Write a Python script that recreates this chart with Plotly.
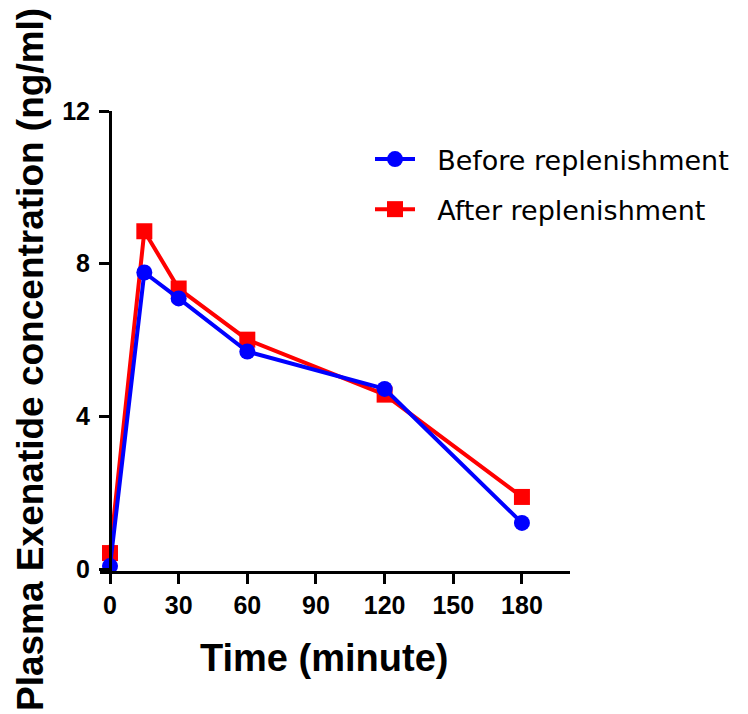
import plotly.graph_objects as go

time_min = [0, 15, 30, 60, 120, 180]
before_vals = [0.08, 7.77, 7.09, 5.70, 4.72, 1.21]
after_vals = [0.42, 8.85, 7.35, 6.01, 4.57, 1.89]
x_ticks = [0, 30, 60, 90, 120, 150, 180]
y_ticks = [0, 4, 8, 12]
series_names = ["Before replenishment", "After replenishment"]

W, H = 748, 714
L, R, T, B = 100, 178, 111, 143
x_range = [-4.37, 201.0]
y_range = [-0.05, 12]
pad = "\u00a0\u00a0"

fig = go.Figure()
fig.add_trace(go.Scatter(
    x=time_min, y=after_vals, name=pad + series_names[1], legendgroup="a",
    legendrank=2,
    mode="lines+markers",
    line=dict(color="#FF0000", width=4),
    marker=dict(symbol="square", size=16, color="#FF0000"),
))
fig.add_trace(go.Scatter(
    x=time_min, y=before_vals, name=pad + series_names[0], legendgroup="b",
    legendrank=1,
    mode="lines+markers",
    line=dict(color="#0000FF", width=4),
    marker=dict(symbol="circle", size=16, color="#0000FF"),
))

tick_font = dict(family="Liberation Sans, Arial", size=25, color="black", weight="bold")
title_font = dict(family="Liberation Sans, Arial", size=38, color="black")

fig.update_layout(
    width=W, height=H,
    margin=dict(l=L, r=R, t=T, b=B),
    plot_bgcolor="white", paper_bgcolor="white",
    showlegend=True,
    legend=dict(
        x=(370 - L) / (W - L - R), y=1 + (T - 135) / (H - T - B),
        xanchor="left", yanchor="top",
        xref="paper", yref="paper",
        font=dict(family="DejaVu Sans", size=27, color="black"),
        traceorder="grouped", tracegroupgap=12,
        itemwidth=40, bgcolor="rgba(0,0,0,0)",
    ),
    xaxis=dict(
        range=x_range, tickvals=x_ticks, ticktext=[str(v) for v in x_ticks],
        showline=True, linecolor="black", linewidth=3,
        ticks="outside", ticklen=10, tickwidth=3, tickcolor="black",
        showgrid=False, zeroline=False, tickfont=tick_font,
    ),
    yaxis=dict(
        range=y_range, tickvals=y_ticks, ticktext=[str(v) for v in y_ticks],
        anchor="free", position=(110 - L) / (W - L - R),
        showline=True, linecolor="black", linewidth=3,
        ticks="outside", ticklen=10, tickwidth=3, tickcolor="black",
        showgrid=False, zeroline=False, tickfont=tick_font,
        ticklabelstandoff=4,
    ),
    annotations=[
        dict(text="<b>Time (minute)</b>", xref="paper", yref="paper",
             x=(324 - L) / (W - L - R), y=1 - (658 - T) / (H - T - B),
             xanchor="center", yanchor="middle", showarrow=False,
             font=title_font),
        dict(text="<b>Plasma Exenatide concentration (ng/ml)</b>",
             xref="paper", yref="paper", textangle=-90,
             x=(30 - L) / (W - L - R), y=1 - (360 - T) / (H - T - B),
             xanchor="center", yanchor="middle", showarrow=False,
             font=dict(family="Liberation Sans, Arial", size=37, color="black")),
    ],
)

fig.write_html("out.html")
